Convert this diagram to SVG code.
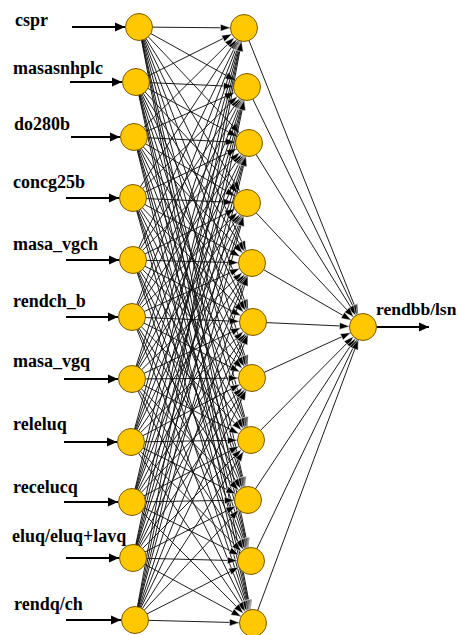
<svg xmlns="http://www.w3.org/2000/svg" width="458" height="635" viewBox="0 0 458 635">
<style>
.bg{fill:#fff}
.node circle{fill:#FFC800;stroke:#7a5a00;stroke-width:1}
.lbl{font-family:"Liberation Serif","Times New Roman",serif;font-weight:bold;font-size:18px;fill:#000}
.w line{stroke:#111;stroke-width:0.95;marker-end:url(#ah)}
.io line{stroke:#000;stroke-width:2;marker-end:url(#big)}
</style>
<defs>
<marker id="ah" markerUnits="userSpaceOnUse" markerWidth="10" markerHeight="7" refX="23.5" refY="3.5" orient="auto" overflow="visible">
<path d="M0,0 L10,3.5 L0,7 z" fill="#000" stroke="#fff" stroke-width="0.5"/>
</marker>
<marker id="big" markerUnits="userSpaceOnUse" markerWidth="10" markerHeight="9" refX="10" refY="4.5" orient="auto" overflow="visible">
<path d="M0,0 L10,4.5 L0,9 z" fill="#000"/>
</marker>
</defs>
<rect class="bg" x="0" y="0" width="458" height="635"/>
<g id="connectors">
<g class="io">
<line x1="72" y1="27" x2="125" y2="27"/>
<line x1="70" y1="82" x2="122" y2="82"/>
<line x1="71" y1="137" x2="120" y2="137"/>
<line x1="66" y1="198" x2="119" y2="198"/>
<line x1="66" y1="260" x2="119" y2="260"/>
<line x1="66" y1="317" x2="118" y2="317"/>
<line x1="64" y1="379" x2="118" y2="379"/>
<line x1="64" y1="442" x2="117" y2="442"/>
<line x1="64" y1="502" x2="118" y2="502"/>
<line x1="66" y1="558" x2="119" y2="558"/>
<line x1="66" y1="620" x2="121" y2="620"/>
<line x1="376" y1="327" x2="429" y2="327"/>
</g>
<g class="w">
<line x1="139" y1="27" x2="244" y2="28"/><line x1="139" y1="27" x2="247" y2="87"/><line x1="139" y1="27" x2="249" y2="143"/><line x1="139" y1="27" x2="247" y2="203"/><line x1="139" y1="27" x2="252" y2="263"/><line x1="139" y1="27" x2="253" y2="322"/><line x1="139" y1="27" x2="252" y2="378"/><line x1="139" y1="27" x2="251" y2="440"/><line x1="139" y1="27" x2="248" y2="500"/><line x1="139" y1="27" x2="251" y2="561"/><line x1="139" y1="27" x2="253" y2="623"/>
<line x1="136" y1="82" x2="244" y2="28"/><line x1="136" y1="82" x2="247" y2="87"/><line x1="136" y1="82" x2="249" y2="143"/><line x1="136" y1="82" x2="247" y2="203"/><line x1="136" y1="82" x2="252" y2="263"/><line x1="136" y1="82" x2="253" y2="322"/><line x1="136" y1="82" x2="252" y2="378"/><line x1="136" y1="82" x2="251" y2="440"/><line x1="136" y1="82" x2="248" y2="500"/><line x1="136" y1="82" x2="251" y2="561"/><line x1="136" y1="82" x2="253" y2="623"/>
<line x1="134" y1="137" x2="244" y2="28"/><line x1="134" y1="137" x2="247" y2="87"/><line x1="134" y1="137" x2="249" y2="143"/><line x1="134" y1="137" x2="247" y2="203"/><line x1="134" y1="137" x2="252" y2="263"/><line x1="134" y1="137" x2="253" y2="322"/><line x1="134" y1="137" x2="252" y2="378"/><line x1="134" y1="137" x2="251" y2="440"/><line x1="134" y1="137" x2="248" y2="500"/><line x1="134" y1="137" x2="251" y2="561"/><line x1="134" y1="137" x2="253" y2="623"/>
<line x1="133" y1="198" x2="244" y2="28"/><line x1="133" y1="198" x2="247" y2="87"/><line x1="133" y1="198" x2="249" y2="143"/><line x1="133" y1="198" x2="247" y2="203"/><line x1="133" y1="198" x2="252" y2="263"/><line x1="133" y1="198" x2="253" y2="322"/><line x1="133" y1="198" x2="252" y2="378"/><line x1="133" y1="198" x2="251" y2="440"/><line x1="133" y1="198" x2="248" y2="500"/><line x1="133" y1="198" x2="251" y2="561"/><line x1="133" y1="198" x2="253" y2="623"/>
<line x1="133" y1="260" x2="244" y2="28"/><line x1="133" y1="260" x2="247" y2="87"/><line x1="133" y1="260" x2="249" y2="143"/><line x1="133" y1="260" x2="247" y2="203"/><line x1="133" y1="260" x2="252" y2="263"/><line x1="133" y1="260" x2="253" y2="322"/><line x1="133" y1="260" x2="252" y2="378"/><line x1="133" y1="260" x2="251" y2="440"/><line x1="133" y1="260" x2="248" y2="500"/><line x1="133" y1="260" x2="251" y2="561"/><line x1="133" y1="260" x2="253" y2="623"/>
<line x1="132" y1="317" x2="244" y2="28"/><line x1="132" y1="317" x2="247" y2="87"/><line x1="132" y1="317" x2="249" y2="143"/><line x1="132" y1="317" x2="247" y2="203"/><line x1="132" y1="317" x2="252" y2="263"/><line x1="132" y1="317" x2="253" y2="322"/><line x1="132" y1="317" x2="252" y2="378"/><line x1="132" y1="317" x2="251" y2="440"/><line x1="132" y1="317" x2="248" y2="500"/><line x1="132" y1="317" x2="251" y2="561"/><line x1="132" y1="317" x2="253" y2="623"/>
<line x1="132" y1="379" x2="244" y2="28"/><line x1="132" y1="379" x2="247" y2="87"/><line x1="132" y1="379" x2="249" y2="143"/><line x1="132" y1="379" x2="247" y2="203"/><line x1="132" y1="379" x2="252" y2="263"/><line x1="132" y1="379" x2="253" y2="322"/><line x1="132" y1="379" x2="252" y2="378"/><line x1="132" y1="379" x2="251" y2="440"/><line x1="132" y1="379" x2="248" y2="500"/><line x1="132" y1="379" x2="251" y2="561"/><line x1="132" y1="379" x2="253" y2="623"/>
<line x1="131" y1="442" x2="244" y2="28"/><line x1="131" y1="442" x2="247" y2="87"/><line x1="131" y1="442" x2="249" y2="143"/><line x1="131" y1="442" x2="247" y2="203"/><line x1="131" y1="442" x2="252" y2="263"/><line x1="131" y1="442" x2="253" y2="322"/><line x1="131" y1="442" x2="252" y2="378"/><line x1="131" y1="442" x2="251" y2="440"/><line x1="131" y1="442" x2="248" y2="500"/><line x1="131" y1="442" x2="251" y2="561"/><line x1="131" y1="442" x2="253" y2="623"/>
<line x1="132" y1="502" x2="244" y2="28"/><line x1="132" y1="502" x2="247" y2="87"/><line x1="132" y1="502" x2="249" y2="143"/><line x1="132" y1="502" x2="247" y2="203"/><line x1="132" y1="502" x2="252" y2="263"/><line x1="132" y1="502" x2="253" y2="322"/><line x1="132" y1="502" x2="252" y2="378"/><line x1="132" y1="502" x2="251" y2="440"/><line x1="132" y1="502" x2="248" y2="500"/><line x1="132" y1="502" x2="251" y2="561"/><line x1="132" y1="502" x2="253" y2="623"/>
<line x1="133" y1="558" x2="244" y2="28"/><line x1="133" y1="558" x2="247" y2="87"/><line x1="133" y1="558" x2="249" y2="143"/><line x1="133" y1="558" x2="247" y2="203"/><line x1="133" y1="558" x2="252" y2="263"/><line x1="133" y1="558" x2="253" y2="322"/><line x1="133" y1="558" x2="252" y2="378"/><line x1="133" y1="558" x2="251" y2="440"/><line x1="133" y1="558" x2="248" y2="500"/><line x1="133" y1="558" x2="251" y2="561"/><line x1="133" y1="558" x2="253" y2="623"/>
<line x1="135" y1="620" x2="244" y2="28"/><line x1="135" y1="620" x2="247" y2="87"/><line x1="135" y1="620" x2="249" y2="143"/><line x1="135" y1="620" x2="247" y2="203"/><line x1="135" y1="620" x2="252" y2="263"/><line x1="135" y1="620" x2="253" y2="322"/><line x1="135" y1="620" x2="252" y2="378"/><line x1="135" y1="620" x2="251" y2="440"/><line x1="135" y1="620" x2="248" y2="500"/><line x1="135" y1="620" x2="251" y2="561"/><line x1="135" y1="620" x2="253" y2="623"/>
<line x1="244" y1="28" x2="363" y2="327"/><line x1="247" y1="87" x2="363" y2="327"/><line x1="249" y1="143" x2="363" y2="327"/><line x1="247" y1="203" x2="363" y2="327"/><line x1="252" y1="263" x2="363" y2="327"/><line x1="253" y1="322" x2="363" y2="327"/><line x1="252" y1="378" x2="363" y2="327"/><line x1="251" y1="440" x2="363" y2="327"/><line x1="248" y1="500" x2="363" y2="327"/><line x1="251" y1="561" x2="363" y2="327"/><line x1="253" y1="623" x2="363" y2="327"/>
</g>
</g>
<g id="in1" class="node"><circle cx="139" cy="27" r="13.5"/><text class="lbl" x="15" y="26">cspr</text></g>
<g id="in2" class="node"><circle cx="136" cy="82" r="13.5"/><text class="lbl" x="13" y="74">masasnhplc</text></g>
<g id="in3" class="node"><circle cx="134" cy="137" r="13.5"/><text class="lbl" x="14" y="130">do280b</text></g>
<g id="in4" class="node"><circle cx="133" cy="198" r="13.5"/><text class="lbl" x="13" y="188">concg25b</text></g>
<g id="in5" class="node"><circle cx="133" cy="260" r="13.5"/><text class="lbl" x="13" y="250">masa_vgch</text></g>
<g id="in6" class="node"><circle cx="132" cy="317" r="13.5"/><text class="lbl" x="13" y="307">rendch_b</text></g>
<g id="in7" class="node"><circle cx="132" cy="379" r="13.5"/><text class="lbl" x="13" y="367">masa_vgq</text></g>
<g id="in8" class="node"><circle cx="131" cy="442" r="13.5"/><text class="lbl" x="13" y="430">releluq</text></g>
<g id="in9" class="node"><circle cx="132" cy="502" r="13.5"/><text class="lbl" x="13" y="493">recelucq</text></g>
<g id="in10" class="node"><circle cx="133" cy="558" r="13.5"/><text class="lbl" x="12" y="542">eluq/eluq+lavq</text></g>
<g id="in11" class="node"><circle cx="135" cy="620" r="13.5"/><text class="lbl" x="14" y="610">rendq/ch</text></g>
<g id="h1" class="node"><circle cx="244" cy="28" r="13.5"/></g>
<g id="h2" class="node"><circle cx="247" cy="87" r="13.5"/></g>
<g id="h3" class="node"><circle cx="249" cy="143" r="13.5"/></g>
<g id="h4" class="node"><circle cx="247" cy="203" r="13.5"/></g>
<g id="h5" class="node"><circle cx="252" cy="263" r="13.5"/></g>
<g id="h6" class="node"><circle cx="253" cy="322" r="13.5"/></g>
<g id="h7" class="node"><circle cx="252" cy="378" r="13.5"/></g>
<g id="h8" class="node"><circle cx="251" cy="440" r="13.5"/></g>
<g id="h9" class="node"><circle cx="248" cy="500" r="13.5"/></g>
<g id="h10" class="node"><circle cx="251" cy="561" r="13.5"/></g>
<g id="h11" class="node"><circle cx="253" cy="623" r="13.5"/></g>
<g id="out" class="node"><circle cx="363" cy="327" r="13.5"/><text class="lbl" x="376" y="315" style="font-size:17.5px">rendbb/lsn</text></g>
</svg>
